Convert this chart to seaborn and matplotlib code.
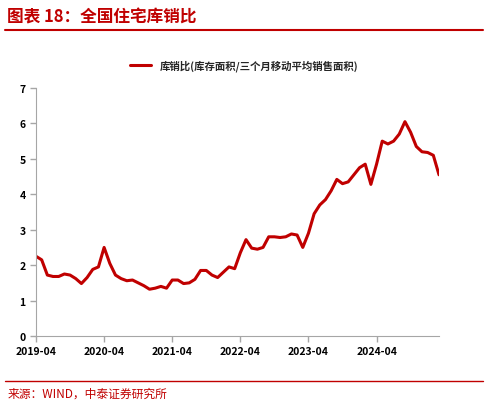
import matplotlib
matplotlib.use("Agg")
import matplotlib.pyplot as plt
import seaborn as sns
import pandas as pd
from matplotlib.lines import Line2D

sns.set_style("ticks")
plt.rcParams['font.family'] = ['Noto Sans CJK SC', 'DejaVu Sans']

months = pd.date_range("2019-04-01", periods=72, freq="MS")
values = [2.25, 2.15, 1.72, 1.68, 1.68, 1.75, 1.72, 1.62, 1.48, 1.65, 1.88, 1.95,
          2.5, 2.05, 1.72, 1.62, 1.56, 1.58, 1.5, 1.42, 1.32, 1.35, 1.4, 1.35,
          1.58, 1.58, 1.48, 1.5, 1.6, 1.85, 1.85, 1.72, 1.65, 1.8, 1.95, 1.9,
          2.35, 2.72, 2.48, 2.45, 2.5, 2.8, 2.8, 2.78, 2.8, 2.88, 2.85, 2.5,
          2.9, 3.45, 3.7, 3.85, 4.1, 4.42, 4.3, 4.35, 4.55, 4.75, 4.85, 4.28,
          4.85, 5.5, 5.42, 5.5, 5.7, 6.05, 5.75, 5.35, 5.2, 5.18, 5.1, 4.55]
tick_labels = ["2019-04", "2020-04", "2021-04", "2022-04", "2023-04", "2024-04"]
series_name = "库销比(库存面积/三个月移动平均销售面积)"
title = "图表 18：全国住宅库销比"
source = "来源：WIND，中泰证券研究所"

df = pd.DataFrame({"x": range(len(values)), "v": values})

fig = plt.figure(figsize=(4.88, 4.06), dpi=100)
ax = fig.add_axes([36/488, 1-337/406, (439-36)/488, (337-89)/406])
sns.lineplot(data=df, x="x", y="v", ax=ax, color="#C00000", linewidth=2.2)
ax.set_xlim(0, 71)
ax.set_ylim(0, 7)
ax.set_xticks([i*12 for i in range(len(tick_labels))])
ax.set_xticklabels(tick_labels)
ax.set_yticks(range(8))
ax.set_xlabel(""); ax.set_ylabel("")
for s in ["top", "right"]:
    ax.spines[s].set_visible(False)
for s in ["left", "bottom"]:
    ax.spines[s].set_color("#A6A6A6")
ax.tick_params(colors="#A6A6A6", labelcolor="black", length=4, width=1, labelsize=7.5)
for lab in ax.get_xticklabels() + ax.get_yticklabels():
    lab.set_fontweight("bold")

fig.legend(handles=[Line2D([], [], color="#C00000", lw=2.2)], labels=[series_name],
           loc="center", bbox_to_anchor=(0.5, 1-66/406), frameon=False,
           prop={"size": 7.5, "weight": "bold"}, handlelength=2)

fig.text(0.015, 1-17/406, title, color="#C00000", fontsize=12, fontweight="bold",
         fontstyle="italic", va="center")
fig.add_artist(Line2D([0.01, 0.99], [1-31/406, 1-31/406], color="#C00000", lw=1.5))
fig.add_artist(Line2D([0.01, 0.99], [1-382/406, 1-382/406], color="#C00000", lw=1))
fig.text(0.015, 1-394/406, source, color="#C00000", fontsize=8.5, va="center")

fig.savefig("out.png", dpi=100)
